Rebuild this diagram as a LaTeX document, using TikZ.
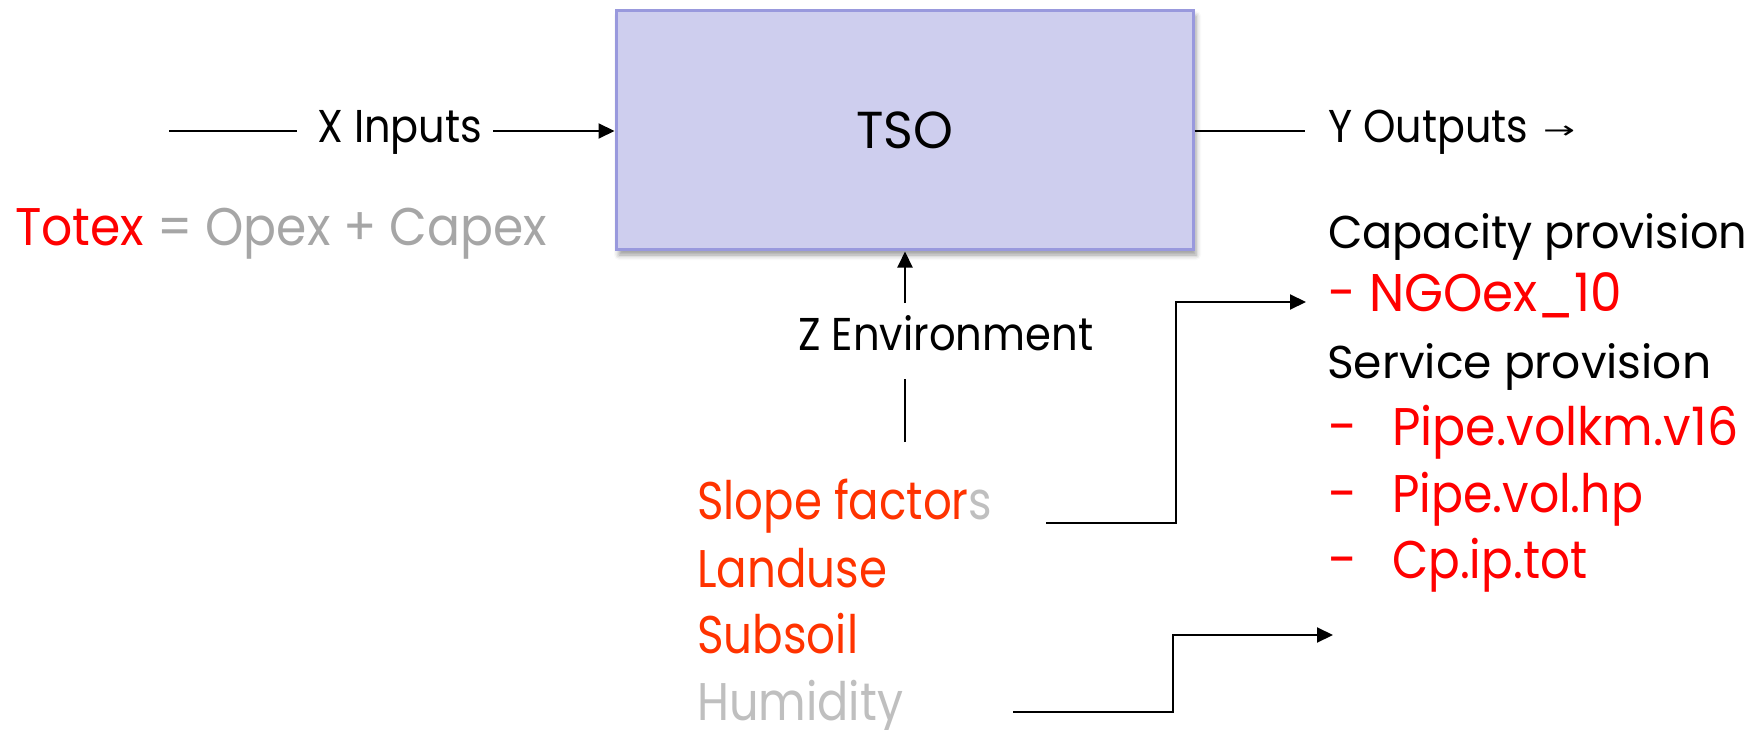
\documentclass[tikz,border=0pt]{standalone}
\usepackage{graphicx}
\usepackage{fontspec}
\setmainfont{Poppins}
\newfontfamily\symfont{DejaVu Sans}
\usetikzlibrary{arrows.meta,shadows.blur}
\definecolor{boxfill}{RGB}{206,206,238}
\definecolor{boxline}{RGB}{153,153,221}
\definecolor{tred}{RGB}{255,0,0}
\definecolor{torange}{RGB}{255,51,0}
\definecolor{tgray}{RGB}{166,166,166}
\definecolor{lgray}{RGB}{191,191,191}
\newsavebox\fitbox
\newcommand\fitw[2]{\sbox\fitbox{#2}\resizebox{#1}{\ht\fitbox}{\usebox\fitbox}}
\begin{document}
\begin{tikzpicture}[x=1pt,y=-1pt,
  lbl/.style={anchor=base west, inner sep=0pt, font=\fontsize{46}{46}\selectfont},
  big/.style={anchor=base west, inner sep=0pt, font=\fontsize{53}{53}\selectfont},
  conn/.style={line width=2pt, black},
  arr/.style={conn, -{Triangle[length=16pt,width=15pt]}},
]
\useasboundingbox (0,0) rectangle (1762,730);

% main box
\node[draw=boxline, line width=3pt, fill=boxfill, minimum width=577pt, minimum height=239pt,
      inner sep=0pt, blur shadow={shadow xshift=3pt, shadow yshift=-5pt, shadow blur radius=5pt},
      font=\fontsize{52}{52}\selectfont] (tso) at (904.5,130.5) {\fitw{97pt}{TSO}};

% inputs
\node[lbl] (xin) at (317,143) {\fitw{165pt}{X Inputs}};
\node[big] (totex) at (15,246) {\fitw{532pt}{\textcolor{tred}{Totex} \textcolor{tgray}{= Opex + Capex}}};
\coordinate (xa) at (169,131);
\draw[conn] (xa) -- (xin.west |- xa) [shorten >=20pt];
\draw[arr, shorten <=11pt] (xin.east |- xa) -- (tso.west |- xa);

% outputs
\node[lbl] (yout) at (1328,143) {\fitw{200pt}{Y Outputs}};
\node[anchor=west, inner sep=0pt, font=\symfont\fontsize{24}{24}\selectfont] (ysym) at (1543,132) {\fitw{32pt}{→}};
\draw[conn, shorten >=23pt] (tso.east |- xa) -- (yout.west |- xa);

\node[lbl] (capp) at (1328,248) {\fitw{419pt}{Capacity provision}};
\node[big, text=tred] (ngo) at (1328,312) {\fitw{294pt}{- NGOex\_10}};
\node[lbl] (serv) at (1327,378) {\fitw{384pt}{Service provision}};
\node[big, text=tred] (p1) at (1328,445) {\makebox[64pt][l]{-}\fitw{346pt}{Pipe.volkm.v16}};
\node[big, text=tred] (p2) at (1328,512) {\makebox[64pt][l]{-}\fitw{251pt}{Pipe.vol.hp}};
\node[big, text=tred] (p3) at (1328,578) {\makebox[64pt][l]{-}\fitw{195pt}{Cp.ip.tot}};

% environment
\node[lbl] (zenv) at (798,350) {\fitw{295pt}{Z Environment}};
\coordinate (zt) at (905,303);
\coordinate (zb1) at (905,379);
\coordinate (zb2) at (905,442);
\draw[arr] (zt) -- (tso.south -| zt);
\draw[conn] (zb2) -- (zb1);

\node[big, text=torange] (slope) at (697,519) {\fitw{295pt}{Slope factor\textcolor{lgray}{s}}};
\node[big, text=torange] (land) at (697,587) {\fitw{190pt}{Landuse}};
\node[big, text=torange] (soil) at (697,653) {\fitw{161pt}{Subsoil}};
\node[big, text=lgray] (hum) at (697,720) {\fitw{206pt}{Humidity}};

% connectors from environment list
\coordinate (s0) at (1046,523);
\draw[arr, shorten >=22pt] (s0) -- (1176,523) -- (1176,302) -- (ngo.west |- 0,302);
\coordinate (h0) at (1013,712);
\coordinate (h1) at (1333,635);
\draw[arr] (h0) -- (1173,712) -- (1173,635) -- (h1);
\end{tikzpicture}
\end{document}
